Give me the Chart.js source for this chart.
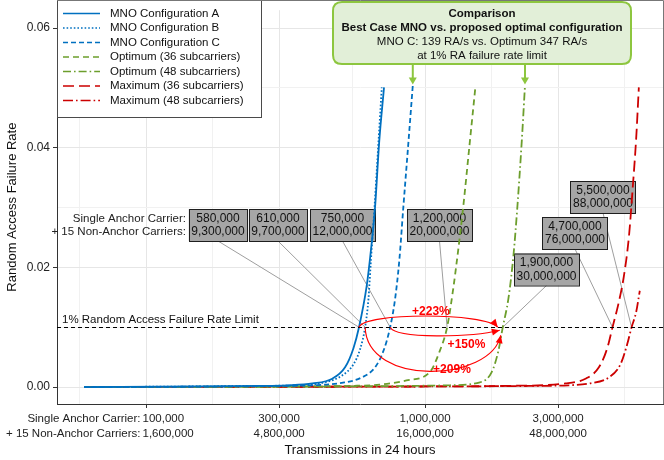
<!DOCTYPE html>
<html>
<head>
<meta charset="utf-8">
<script src="https://cdn.jsdelivr.net/npm/chart.js@4/dist/chart.umd.min.js"></script>
<style>
  html, body { margin: 0; padding: 0; background: #ffffff; }
  canvas { display: block; }
</style>
</head>
<body>
<canvas id="chart" width="664" height="460"></canvas>
<script>
// Transmissions per day on a single anchor carrier (x) vs. random access failure rate (y)
const mnoA_x = [60000, 150000, 250000, 320000, 395000, 465000, 517000, 554000, 580000, 618000, 640000, 662000, 685000, 713000];
const mnoA_y = [0.0000, 0.0001, 0.0002, 0.0003, 0.0006, 0.0014, 0.0033, 0.0065, 0.0100, 0.0169, 0.0229, 0.0300, 0.0409, 0.0501];

const mnoB_x = [60000, 150000, 250000, 352000, 438000, 503000, 554000, 585000, 610000, 627000, 640000, 659000, 681000, 700000];
const mnoB_y = [0.0000, 0.0001, 0.0002, 0.0003, 0.0008, 0.0019, 0.0038, 0.0063, 0.0100, 0.0147, 0.0212, 0.0300, 0.0409, 0.0501];

const mnoC_x = [60000, 200000, 300000, 393000, 503000, 593000, 662000, 709000, 750000, 781000, 809000, 836000, 872000, 904000];
const mnoC_y = [0.0000, 0.0001, 0.0002, 0.0003, 0.0007, 0.0016, 0.0033, 0.0060, 0.0100, 0.0147, 0.0212, 0.0300, 0.0409, 0.0504];

const opt36_x = [60000, 300000, 550000, 688000, 858000, 1040000, 1129000, 1200000, 1261000, 1315000, 1370000, 1447000, 1516000];
const opt36_y = [0.0000, 0.0001, 0.0002, 0.0004, 0.0011, 0.0025, 0.0060, 0.0100, 0.0163, 0.0229, 0.0300, 0.0409, 0.0502];

const opt48_x = [60000, 500000, 900000, 1229000, 1574000, 1734000, 1831000, 1900000, 1989000, 2073000, 2142000, 2221000, 2282000];
const opt48_y = [0.0000, 0.0001, 0.0002, 0.0003, 0.0008, 0.0025, 0.0060, 0.0100, 0.0147, 0.0218, 0.0300, 0.0409, 0.0504];

const max36_x = [60000, 1000000, 2000000, 3190000, 3760000, 4200000, 4500000, 4700000, 4950000, 5160000, 5380000, 5550000, 5710000, 5840000];
const max36_y = [0.0000, 0.0001, 0.0002, 0.0006, 0.0014, 0.0033, 0.0065, 0.0100, 0.0142, 0.0185, 0.0251, 0.0332, 0.0414, 0.0501];

const max48_x = [60000, 1000000, 2500000, 3276000, 3864000, 4557000, 5019000, 5301000, 5500000, 5710000, 5886000];
const max48_y = [0.0000, 0.0001, 0.0002, 0.0003, 0.0006, 0.0016, 0.0038, 0.0071, 0.0100, 0.0125, 0.0161];

const seriesNames = [
  'MNO Configuration A', 'MNO Configuration B', 'MNO Configuration C',
  'Optimum (36 subcarriers)', 'Optimum (48 subcarriers)',
  'Maximum (36 subcarriers)', 'Maximum (48 subcarriers)'
];

// Failure-rate limit and the load at which each configuration reaches it
const limitRate = 0.01;
const limitSingle = [580000, 610000, 750000, 1200000, 1900000, 4700000, 5500000];
const limitTotal  = [9300000, 9700000, 12000000, 20000000, 30000000, 76000000, 88000000];

// Gains of the optimum (48 subcarriers) over the MNO configurations
const gainFrom   = [0, 2, 1];            // series index of A, C, B
const gainLabels = ['+223%', '+150%', '+209%'];

// Axis ticks: single anchor carrier and anchor + 15 non-anchor carriers
const axisSingle = [100000, 300000, 1000000, 3000000];
const axisTotal  = [1600000, 4800000, 16000000, 48000000];
const axisRate   = [0, 0.01, 0.02, 0.03, 0.04, 0.05, 0.06];

const compareLines = [
  'Comparison',
  'Best Case MNO vs. proposed optimal configuration',
  'MNO C: 139 RA/s vs. Optimum 347 RA/s',
  'at 1% RA failure rate limit'
];

// ---------------------------------------------------------------- styling
const FONT = '"Liberation Sans", Arial, Helvetica, sans-serif';
const BLUE = '#0070c0', GREEN = '#6c9e2c', RED = '#cc0000';
const seriesStyle = [
  { color: BLUE,  dash: [] },
  { color: BLUE,  dash: [1.6, 2] },
  { color: BLUE,  dash: [5, 3] },
  { color: GREEN, dash: [6, 4] },
  { color: GREEN, dash: [8, 3, 1.6, 3] },
  { color: RED,   dash: [11, 5] },
  { color: RED,   dash: [10, 3, 1.6, 3] }
];
const seriesX = [mnoA_x, mnoB_x, mnoC_x, opt36_x, opt48_x, max36_x, max48_x];
const seriesY = [mnoA_y, mnoB_y, mnoC_y, opt36_y, opt48_y, max36_y, max48_y];

// label boxes (centres in canvas pixels)
const boxCentres = [[218, 225], [278, 225], [342.5, 225], [439.5, 225], [546.5, 269.5], [575, 233], [603, 197]];
const BOX_H = 32;

const X_MIN = 47970, X_MAX = 7128700;
const Y_MIN = -0.00283, Y_MAX = 0.0630;

const fmt = v => v.toLocaleString('en-US');

// minor x grid: geometric midpoints between the (extended) major ticks
const extMajors = [axisSingle[0] / 3, ...axisSingle, axisSingle[axisSingle.length - 1] * 3];
const xMinor = [];
for (let i = 0; i < extMajors.length - 1; i++) xMinor.push(Math.sqrt(extMajors[i] * extMajors[i + 1]));
const xGrid = [...axisSingle, ...xMinor].sort((a, b) => a - b);
const isMajorX = v => axisSingle.some(m => Math.abs(m - v) / m < 1e-6);
const isMajorY = v => Math.round(v * 100) % 2 === 0;

const datasets = seriesNames.map((name, i) => ({
  label: name,
  data: seriesX[i].map((x, k) => ({ x, y: seriesY[i][k] })),
  borderColor: seriesStyle[i].color,
  borderDash: seriesStyle[i].dash,
  borderWidth: 1.8,
  pointRadius: 0,
  fill: false,
  cubicInterpolationMode: 'monotone'
}));

function arrowHead(ctx, tipX, tipY, fromX, fromY, len, half, color) {
  const a = Math.atan2(tipY - fromY, tipX - fromX);
  ctx.save();
  ctx.fillStyle = color;
  ctx.beginPath();
  ctx.moveTo(tipX, tipY);
  ctx.lineTo(tipX - len * Math.cos(a) + half * Math.sin(a), tipY - len * Math.sin(a) - half * Math.cos(a));
  ctx.lineTo(tipX - len * Math.cos(a) - half * Math.sin(a), tipY - len * Math.sin(a) + half * Math.cos(a));
  ctx.closePath();
  ctx.fill();
  ctx.restore();
}

function roundRect(ctx, x, y, w, h, r) {
  ctx.beginPath();
  ctx.moveTo(x + r, y);
  ctx.lineTo(x + w - r, y);
  ctx.quadraticCurveTo(x + w, y, x + w, y + r);
  ctx.lineTo(x + w, y + h - r);
  ctx.quadraticCurveTo(x + w, y + h, x + w - r, y + h);
  ctx.lineTo(x + r, y + h);
  ctx.quadraticCurveTo(x, y + h, x, y + h - r);
  ctx.lineTo(x, y + r);
  ctx.quadraticCurveTo(x, y, x + r, y);
  ctx.closePath();
}

const annotations = {
  id: 'annotations',
  beforeDatasetsDraw(chart) {
    const { ctx, scales: { x, y } } = chart;
    const yLim = y.getPixelForValue(limitRate);
    ctx.save();
    // leader lines from each box to its crossing with the limit
    ctx.strokeStyle = '#9e9e9e';
    ctx.lineWidth = 1;
    boxCentres.forEach(([cx, cy], i) => {
      ctx.beginPath();
      ctx.moveTo(cx, cy + BOX_H / 2);
      ctx.lineTo(x.getPixelForValue(limitSingle[i]), yLim);
      ctx.stroke();
    });
    // value boxes
    ctx.font = '12px ' + FONT;
    ctx.textAlign = 'center';
    ctx.textBaseline = 'middle';
    boxCentres.forEach(([cx, cy], i) => {
      const t1 = fmt(limitSingle[i]), t2 = fmt(limitTotal[i]);
      const w = Math.max(ctx.measureText(t1).width, ctx.measureText(t2).width) + 5;
      ctx.fillStyle = '#a6a6a6';
      ctx.fillRect(cx - w / 2, cy - BOX_H / 2, w, BOX_H);
      ctx.strokeStyle = '#1e1e1e';
      ctx.strokeRect(Math.round(cx - w / 2) + 0.5, cy - BOX_H / 2 + 0.5, Math.round(w), BOX_H);
      ctx.fillStyle = '#111';
      ctx.fillText(t1, cx, cy - 6.5);
      ctx.fillText(t2, cx, cy + 7);
    });
    // row captions to the left of the first box
    ctx.font = '11.5px ' + FONT;
    ctx.textAlign = 'right';
    ctx.fillStyle = '#222';
    const [fx, fy] = boxCentres[0];
    const fw = 58;
    ctx.fillText('Single Anchor Carrier:', fx - fw / 2 - 3, fy - 6.5);
    ctx.fillText('+ 15 Non-Anchor Carriers:', fx - fw / 2 - 3, fy + 7);
    ctx.restore();
  },
  afterDatasetsDraw(chart) {
    const { ctx, chartArea: area, scales: { x, y } } = chart;
    const yLim = y.getPixelForValue(limitRate);
    ctx.save();

    // 1% limit line
    ctx.strokeStyle = '#000';
    ctx.lineWidth = 1;
    ctx.setLineDash([4, 3]);
    ctx.beginPath();
    ctx.moveTo(area.left, Math.round(yLim) + 0.5);
    ctx.lineTo(area.right, Math.round(yLim) + 0.5);
    ctx.stroke();
    ctx.setLineDash([]);
    ctx.font = '11.5px ' + FONT;
    ctx.fillStyle = '#111';
    ctx.textAlign = 'left';
    ctx.textBaseline = 'middle';
    ctx.fillText('1% Random Access Failure Rate Limit', area.left + 5, yLim - 7);

    // gain arrows towards the optimum (48 subcarriers)
    const xEnd = x.getPixelForValue(limitSingle[4]);
    const arcs = [
      { end: [-5, 0], c1: [4, -15], c2: [-12, -15], lab: [0, -16] },
      { end: [-3, 3], c1: [6, 12], c2: [-28, 10], lab: [20, 17] },
      { end: [-2, 8], c1: [2, 60], c2: [-10, 55], lab: [18, 42] }
    ];
    ctx.strokeStyle = '#ff0000';
    ctx.lineWidth = 1.2;
    arcs.forEach((a, i) => {
      const x0 = x.getPixelForValue(limitSingle[gainFrom[i]]);
      const x3 = xEnd + a.end[0], y3 = yLim + a.end[1];
      const c1x = x0 + a.c1[0], c1y = yLim + a.c1[1];
      const c2x = x3 + a.c2[0], c2y = yLim + a.c2[1];
      ctx.beginPath();
      ctx.moveTo(x0, yLim);
      ctx.bezierCurveTo(c1x, c1y, c2x, c2y, x3, y3);
      ctx.stroke();
      arrowHead(ctx, x3, y3, c2x, c2y, 8, 3.5, '#ff0000');
      ctx.font = 'bold 12px ' + FONT;
      ctx.fillStyle = '#ff0000';
      ctx.textAlign = 'center';
      ctx.fillText(gainLabels[i], (x0 + xEnd) / 2 + a.lab[0], yLim + a.lab[1]);
    });

    // comparison callout
    const bx = 333, by = 2, bw = 298, bh = 62;
    ctx.fillStyle = '#e2efd8';
    ctx.strokeStyle = '#8dc63f';
    ctx.lineWidth = 2;
    roundRect(ctx, bx, by, bw, bh, 9);
    ctx.fill();
    ctx.stroke();
    ctx.fillStyle = '#111';
    ctx.textAlign = 'center';
    const rows = [13.5, 27.5, 42, 55.5];
    compareLines.forEach((t, i) => {
      ctx.font = (i < 2 ? 'bold ' : '') + '11.5px ' + FONT;
      ctx.fillText(t, bx + bw / 2, rows[i]);
    });
    // callout arrows to the MNO C and optimum (48) curves
    [2, 4].forEach(si => {
      const pts = chart.getDatasetMeta(si).data;
      const top = pts[pts.length - 1];
      ctx.strokeStyle = '#8dc63f';
      ctx.lineWidth = 2;
      ctx.beginPath();
      ctx.moveTo(top.x, by + bh + 1);
      ctx.lineTo(top.x, top.y - 6);
      ctx.stroke();
      arrowHead(ctx, top.x, top.y - 1, top.x, by + bh, 7, 4, '#8dc63f');
    });

    // legend
    const lx = area.left, ly = 0, lw = 204, lh = 117;
    ctx.fillStyle = '#fff';
    ctx.fillRect(lx, ly, lw, lh);
    ctx.strokeStyle = '#4a4a4a';
    ctx.lineWidth = 1;
    ctx.strokeRect(lx + 0.5, ly + 0.5, lw, lh);
    ctx.font = '11.5px ' + FONT;
    ctx.textAlign = 'left';
    chart.data.datasets.forEach((ds, i) => {
      const ry = 13.5 + i * 14.5;
      ctx.strokeStyle = ds.borderColor;
      ctx.lineWidth = 1.4;
      ctx.setLineDash(ds.borderDash);
      ctx.beginPath();
      ctx.moveTo(lx + 6, ry);
      ctx.lineTo(lx + 43, ry);
      ctx.stroke();
      ctx.setLineDash([]);
      ctx.fillStyle = '#111';
      ctx.fillText(ds.label, lx + 53, ry);
    });

    // panel frame on the top and right
    ctx.strokeStyle = '#777';
    ctx.lineWidth = 1;
    ctx.beginPath();
    ctx.moveTo(area.left, 0.5);
    ctx.lineTo(area.right + 0.5, 0.5);
    ctx.lineTo(area.right + 0.5, area.bottom);
    ctx.stroke();

    // x tick labels: single anchor carrier over anchor + 15 non-anchor carriers
    ctx.font = '11.5px ' + FONT;
    ctx.fillStyle = '#222';
    const r1 = area.bottom + 15, r2 = area.bottom + 29.5;
    axisSingle.forEach((v, i) => {
      const px = x.getPixelForValue(v);
      if (i === 0) {
        ctx.textAlign = 'left';
        ctx.fillText(fmt(v), px - 3.5, r1);
        ctx.fillText(fmt(axisTotal[i]), px - 3.5, r2);
        ctx.textAlign = 'right';
        ctx.fillText('Single Anchor Carrier:', px - 5.5, r1);
        ctx.fillText('+ 15 Non-Anchor Carriers:', px - 5.5, r2);
      } else {
        ctx.textAlign = 'center';
        ctx.fillText(fmt(v), px, r1);
        ctx.fillText(fmt(axisTotal[i]), px, r2);
      }
    });

    // axis titles
    ctx.font = '13px ' + FONT;
    ctx.fillStyle = '#111';
    ctx.textAlign = 'center';
    ctx.fillText('Transmissions in 24 hours', (area.left + area.right) / 2, 450);
    ctx.translate(12, (area.top + area.bottom) / 2);
    ctx.rotate(-Math.PI / 2);
    ctx.fillText('Random Access Failure Rate', 0, 0);
    ctx.restore();
  }
};

new Chart(document.getElementById('chart'), {
  type: 'line',
  data: { datasets },
  options: {
    responsive: false,
    animation: false,
    devicePixelRatio: 1,
    layout: { padding: { left: 0, right: 1, top: 1, bottom: 0 } },
    plugins: { legend: { display: false }, tooltip: { enabled: false } },
    scales: {
      x: {
        type: 'logarithmic',
        min: X_MIN,
        max: X_MAX,
        afterBuildTicks: s => { s.ticks = xGrid.map(v => ({ value: v, major: isMajorX(v) })); },
        afterFit: s => { s.height = 56; },
        ticks: { display: false },
        grid: {
          color: c => (c.tick && isMajorX(c.tick.value)) ? '#e6e6e6' : '#f1f1f1',
          lineWidth: 1,
          drawTicks: true,
          tickLength: 4,
          tickColor: c => (c.tick && isMajorX(c.tick.value)) ? '#333' : 'rgba(0,0,0,0)'
        },
        border: { display: true, color: '#333', width: 1 }
      },
      y: {
        min: Y_MIN,
        max: Y_MAX,
        afterBuildTicks: s => { s.ticks = axisRate.map(v => ({ value: v })); },
        afterFit: s => { s.width = 57; },
        ticks: {
          autoSkip: false,
          padding: 3,
          color: '#222',
          font: { size: 12, family: FONT },
          callback: v => isMajorY(v) ? v.toFixed(2) : ''
        },
        grid: {
          color: c => (c.tick && isMajorY(c.tick.value)) ? '#e6e6e6' : '#f1f1f1',
          lineWidth: 1,
          drawTicks: true,
          tickLength: 4,
          tickColor: c => (c.tick && isMajorY(c.tick.value)) ? '#333' : 'rgba(0,0,0,0)'
        },
        border: { display: true, color: '#333', width: 1 }
      }
    }
  },
  plugins: [annotations]
});
</script>
</body>
</html>
